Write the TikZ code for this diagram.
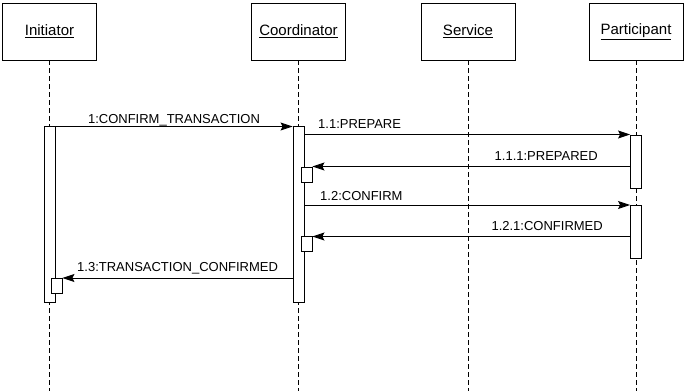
\documentclass[tikz,border=0pt]{standalone}
\usepackage{fontspec}
\setmainfont{Liberation Sans}
\usetikzlibrary{arrows.meta,calc}
\begin{document}
\begin{tikzpicture}[x=1pt,y=-1pt,
  obj/.style={draw,line width=0.9pt,minimum width=94pt,minimum height=57pt,inner sep=0pt,font=\fontsize{15}{17}\selectfont},
  bar/.style={draw,fill=white,line width=0.9pt,minimum width=11pt,inner sep=0pt,anchor=north},
  sbox/.style={draw,fill=white,line width=0.9pt,minimum width=11pt,minimum height=15pt,inner sep=0pt,anchor=north},
  life/.style={line width=0.9pt,dash pattern=on 5pt off 3pt},
  msg/.style={line width=0.9pt,-{Stealth[length=12pt,width=8pt,inset=2pt]}},
  lbl/.style={font=\fontsize{13}{15}\selectfont,inner sep=0pt}]
\useasboundingbox (0,0) rectangle (686,391);
\coordinate (bot) at (0,391);
% objects
\node[obj] (ini) at (49.5,31.5) {\underline{Initiator}};
\node[obj] (coo) at (298.5,31.5) {\underline{Coordinator}};
\node[obj] (ser) at (468,31.5) {\underline{Service}};
\node[obj] (par) at (636,31.5) {\underline{Participant}};
% lifelines
\draw[life] (ini.south) -- (ini.south |- bot);
\draw[life] (coo.south) -- (coo.south |- bot);
\draw[life] (ser.south) -- (ser.south |- bot);
\draw[life] (par.south) -- (par.south |- bot);
% activation bars
\node[bar,minimum height=176pt] (ibar) at (49.5,126) {};
\node[bar,minimum height=176pt] (cbar) at (298.5,126) {};
\node[bar,minimum height=53pt] (pbar1) at (636,134.5) {};
\node[bar,minimum height=53pt] (pbar2) at (636,204.5) {};
\node[sbox] (cs1) at (306.5,166.5) {};
\node[sbox] (cs2) at (306.5,235.5) {};
\node[sbox] (is1) at (56.5,278) {};
% message heights
\coordinate (m1) at (0,126.5);
\coordinate (m11) at (0,134.5);
\coordinate (m111) at (0,166.5);
\coordinate (m12) at (0,205);
\coordinate (m121) at (0,236.5);
\coordinate (m13) at (0,278);
% messages
\draw[msg] (ibar.east |- m1) -- (cbar.west |- m1);
\draw[msg] (cbar.east |- m11) -- (pbar1.west |- m11);
\draw[msg] (pbar1.west |- m111) -- (cs1.east |- m111);
\draw[msg] (cbar.east |- m12) -- (pbar2.west |- m12);
\draw[msg] (pbar2.west |- m121) -- (cs2.east |- m121);
\draw[msg] (cbar.west |- m13) -- (is1.east |- m13);
% labels
\node[lbl,anchor=base] (l1) at (174,123.3) {1:CONFIRM\_TRANSACTION};
\node[lbl,anchor=base west] (l11) at (318,128.3) {1.1:PREPARE};
\node[lbl,anchor=base east] (l111) at (598,160) {1.1.1:PREPARED};
\node[lbl,anchor=base west] (l12) at (320,200.5) {1.2:CONFIRM};
\node[lbl,anchor=base east] (l121) at (603,230.5) {1.2.1:CONFIRMED};
\node[lbl,anchor=base west] (l13) at (77,271.7) {1.3:TRANSACTION\_CONFIRMED};
\end{tikzpicture}
\end{document}
